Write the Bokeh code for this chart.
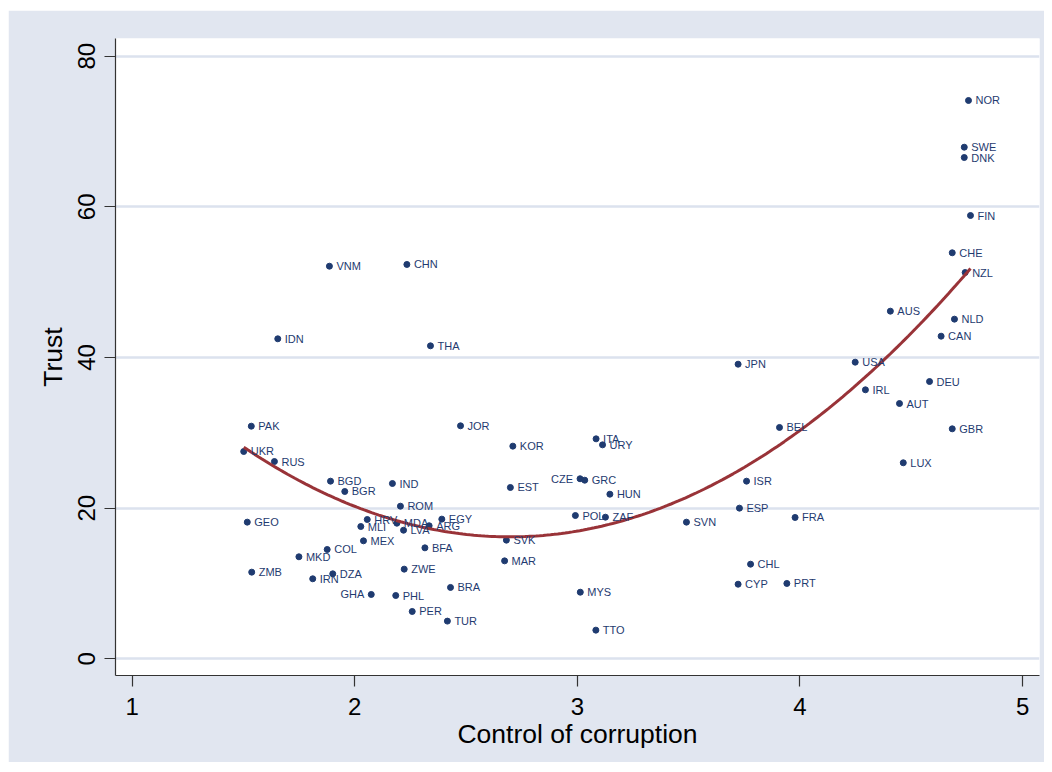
import numpy as np
from bokeh.plotting import figure
from bokeh.models import Range1d, FixedTicker, ColumnDataSource, Spacer
from bokeh.layouts import column, row
from bokeh.core.properties import value
from bokeh.embed import file_html
from bokeh.resources import INLINE

countries = ["PAK", "UKR", "RUS", "BGD", "BGR", "IND", "ROM", "GEO", "HRV", "MLI",
             "MDA", "LVA", "ARG", "EGY", "MEX", "BFA", "COL", "MKD", "ZMB", "ZWE",
             "DZA", "IRN", "GHA", "PHL", "BRA", "PER", "TUR", "JOR", "KOR", "EST",
             "SVK", "MAR", "ITA", "URY", "CZE", "GRC", "HUN", "POL", "ZAF", "MYS",
             "TTO", "SVN", "CAN", "JPN", "USA", "DEU", "IRL", "AUT", "BEL", "GBR",
             "LUX", "ISR", "ESP", "FRA", "CHL", "CYP", "PRT", "NOR", "SWE", "DNK",
             "FIN", "CHE", "NZL", "AUS", "NLD", "VNM", "CHN", "IDN", "THA"]

corruption = [1.535, 1.501, 1.639, 1.891, 1.955, 2.169, 2.205, 1.517, 2.056, 2.027,
              2.189, 2.219, 2.334, 2.391, 2.039, 2.315, 1.876, 1.749, 1.537, 2.222,
              1.901, 1.811, 2.074, 2.184, 2.430, 2.258, 2.416, 2.475, 2.710, 2.699,
              2.681, 2.673, 3.084, 3.113, 3.012, 3.033, 3.146, 2.991, 3.126, 3.013,
              3.083, 3.490, 4.634, 3.722, 4.248, 4.582, 4.294, 4.447, 3.908, 4.684,
              4.464, 3.760, 3.728, 3.978, 3.778, 3.722, 3.941, 4.757, 4.738, 4.738,
              4.766, 4.684, 4.742, 4.406, 4.694, 1.886, 2.234, 1.654, 2.340]

trust = [30.88, 27.52, 26.19, 23.58, 22.21, 23.27, 20.26, 18.14, 18.49, 17.56,
         18.00, 17.07, 17.66, 18.54, 15.66, 14.73, 14.51, 13.54, 11.50, 11.90,
         11.28, 10.62, 8.54, 8.40, 9.47, 6.28, 5.00, 30.93, 28.23, 22.74,
         15.75, 13.00, 29.20, 28.40, 23.90, 23.71, 21.85, 19.02, 18.80, 8.84,
         3.80, 18.14, 42.83, 39.11, 39.38, 36.81, 35.71, 33.89, 30.71, 30.53,
         26.02, 23.58, 20.00, 18.76, 12.56, 9.90, 10.00, 74.12, 67.92, 66.55,
         58.85, 53.90, 51.28, 46.15, 45.09, 52.12, 52.35, 42.48, 41.55]

left_labelled = ["GHA", "CZE"]

x_ticks = [1, 2, 3, 4, 5]
y_ticks = [0, 20, 40, 60, 80]

NAVY = "#1F3B70"
MAROON = "#993338"
BG = "#E1E6F0"
FONT = "Liberation Sans"

p = figure(width=1036, height=752,
           x_range=Range1d(0.925, 5.076), y_range=Range1d(-2.22, 82.35),
           output_backend="svg", toolbar_location=None,
           min_border_left=107, min_border_right=5,
           min_border_top=28, min_border_bottom=87,
           background_fill_color="white", border_fill_color=BG)
p.outline_line_color = None

# grid
p.xgrid.grid_line_color = None
p.ygrid.ticker = FixedTicker(ticks=y_ticks)
p.ygrid.grid_line_color = "#DCE2EE"
p.ygrid.grid_line_width = 2.5

# axes
for ax in (p.xaxis[0], p.yaxis[0]):
    ax.axis_line_color = "#333333"
    ax.axis_line_width = 1.2
    ax.major_tick_line_color = "#333333"
    ax.major_tick_line_width = 1.2
    ax.major_tick_in = 0
    ax.major_tick_out = 11
    ax.minor_tick_line_color = None
    ax.major_label_text_font = FONT
    ax.major_label_text_font_size = "24px"
    ax.major_label_text_color = "black"
    ax.axis_label_text_font = FONT
    ax.axis_label_text_font_size = "26.5px"
    ax.axis_label_text_font_style = "normal"
    ax.axis_label_text_color = "black"

p.xaxis[0].ticker = FixedTicker(ticks=x_ticks)
p.yaxis[0].ticker = FixedTicker(ticks=y_ticks)
p.yaxis[0].major_label_orientation = "vertical"
p.xaxis[0].axis_label = "Control of corruption"
p.yaxis[0].axis_label = "Trust"
p.xaxis[0].major_label_standoff = 11
p.xaxis[0].axis_label_standoff = 1
p.yaxis[0].major_label_standoff = 9
p.yaxis[0].axis_label_standoff = 8

# quadratic fit computed from the data
xa = np.array(corruption)
ya = np.array(trust)
coef = np.polyfit(xa, ya, 2)
xf = np.linspace(xa.min(), xa.max(), 200)
yf = np.polyval(coef, xf)

src = ColumnDataSource(dict(x=corruption, y=trust, name=countries))
p.scatter("x", "y", source=src, size=6, color=NAVY, line_color=NAVY)
p.line(xf, yf, line_color=MAROON, line_width=3)

right_idx = [i for i, c in enumerate(countries) if c not in left_labelled]
left_idx = [i for i, c in enumerate(countries) if c in left_labelled]
src_r = ColumnDataSource(dict(x=[corruption[i] for i in right_idx],
                              y=[trust[i] for i in right_idx],
                              name=[countries[i] for i in right_idx]))
src_l = ColumnDataSource(dict(x=[corruption[i] for i in left_idx],
                              y=[trust[i] for i in left_idx],
                              name=[countries[i] for i in left_idx]))
p.text("x", "y", text="name", source=src_r, x_offset=7, text_align="left",
       text_baseline="middle", text_font=value(FONT), text_font_size="11px",
       text_color=NAVY)
p.text("x", "y", text="name", source=src_l, x_offset=-7, text_align="right",
       text_baseline="middle", text_font=value(FONT), text_font_size="11px",
       text_color=NAVY)

layout = column(Spacer(height=10, width=1044),
                row(Spacer(width=8, height=752), p, spacing=0), spacing=0)

open("out.html", "w").write(file_html(layout, INLINE))
